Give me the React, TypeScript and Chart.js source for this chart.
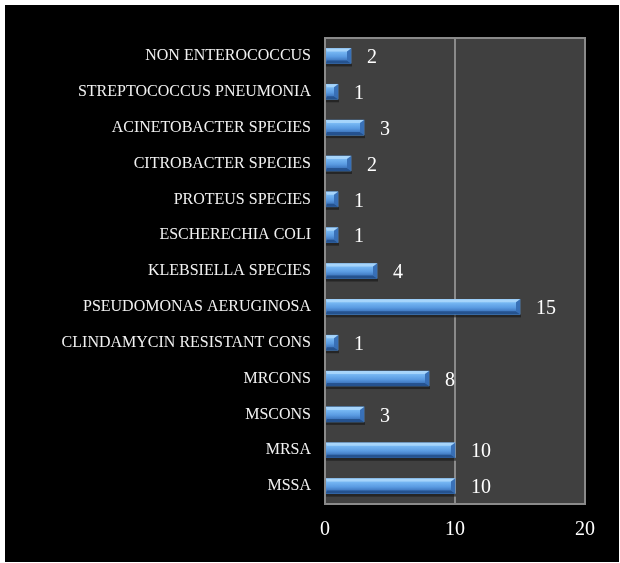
import React, { useEffect, useRef } from "react";
import { Chart, registerables } from "chart.js";

Chart.register(...registerables);

const categories: string[] = [
  "NON ENTEROCOCCUS",
  "STREPTOCOCCUS PNEUMONIA",
  "ACINETOBACTER SPECIES",
  "CITROBACTER SPECIES",
  "PROTEUS SPECIES",
  "ESCHERECHIA COLI",
  "KLEBSIELLA SPECIES",
  "PSEUDOMONAS AERUGINOSA",
  "CLINDAMYCIN RESISTANT CONS",
  "MRCONS",
  "MSCONS",
  "MRSA",
  "MSSA",
];

const counts: number[] = [2, 1, 3, 2, 1, 1, 4, 15, 1, 8, 3, 10, 10];

const xTicks: number[] = [0, 10, 20];

const FONT = "'Liberation Serif', 'Times New Roman', serif";

const framePlugin = {
  id: "frame",
  beforeDraw(chart: any) {
    const { ctx, chartArea, width, height } = chart;
    ctx.save();
    ctx.fillStyle = "#ffffff";
    ctx.fillRect(0, 0, width, height);
    ctx.fillStyle = "#000000";
    ctx.fillRect(5, 5, width - 6, height - 6);
    ctx.fillStyle = "#404040";
    ctx.fillRect(chartArea.left, chartArea.top, chartArea.right - chartArea.left, chartArea.bottom - chartArea.top);
    ctx.restore();
  },
  afterDraw(chart: any) {
    const { ctx, chartArea } = chart;
    ctx.save();
    ctx.strokeStyle = "#8a8a8a";
    ctx.lineWidth = 2;
    ctx.strokeRect(chartArea.left, chartArea.top, chartArea.right - chartArea.left, chartArea.bottom - chartArea.top);
    ctx.restore();
  },
};

const bevelPlugin = {
  id: "bevel",
  beforeDatasetsDraw(chart: any) {
    const { ctx } = chart;
    const meta = chart.getDatasetMeta(0);
    ctx.save();
    meta.data.forEach((bar: any) => {
      const p = bar.getProps(["x", "y", "base", "height"], true);
      const yB = p.y + p.height / 2;
      ctx.fillStyle = "rgba(20,20,20,0.6)";
      ctx.fillRect(p.base, yB, p.x - p.base + 1, 3);
    });
    ctx.restore();
  },
  afterDatasetsDraw(chart: any) {
    const { ctx } = chart;
    const meta = chart.getDatasetMeta(0);
    ctx.save();
    meta.data.forEach((bar: any, i: number) => {
      const p = bar.getProps(["x", "y", "base", "height"], true);
      const x0 = p.base;
      const x1 = p.x;
      const yT = p.y - p.height / 2;
      const yB = p.y + p.height / 2;
      const b = Math.min(4, (x1 - x0) / 2);
      const g = ctx.createLinearGradient(0, yT, 0, yB);
      g.addColorStop(0, "#9fd0fa");
      g.addColorStop(0.25, "#74b5f2");
      g.addColorStop(0.55, "#5a9be2");
      g.addColorStop(0.8, "#3f78c0");
      g.addColorStop(1, "#2c5c9a");
      ctx.fillStyle = g;
      ctx.fillRect(x0, yT, x1 - x0, yB - yT);
      ctx.fillStyle = "rgba(170,215,252,0.85)";
      ctx.beginPath();
      ctx.moveTo(x0, yT);
      ctx.lineTo(x1, yT);
      ctx.lineTo(x1 - b, yT + 3);
      ctx.lineTo(x0 + 1, yT + 3);
      ctx.closePath();
      ctx.fill();
      ctx.fillStyle = "rgba(35,80,140,0.9)";
      ctx.beginPath();
      ctx.moveTo(x0, yB);
      ctx.lineTo(x1, yB);
      ctx.lineTo(x1 - b, yB - 3);
      ctx.lineTo(x0 + 1, yB - 3);
      ctx.closePath();
      ctx.fill();
      ctx.fillStyle = "rgba(55,110,180,0.95)";
      ctx.beginPath();
      ctx.moveTo(x1, yT);
      ctx.lineTo(x1, yB);
      ctx.lineTo(x1 - b, yB - 3);
      ctx.lineTo(x1 - b, yT + 3);
      ctx.closePath();
      ctx.fill();
      ctx.fillStyle = "#ffffff";
      ctx.font = `20px ${FONT}`;
      ctx.textAlign = "left";
      ctx.textBaseline = "middle";
      ctx.fillText(String(counts[i]), x1 + 16, p.y + 2);
    });
    ctx.restore();
  },
};

export default function App() {
  const ref = useRef<HTMLCanvasElement | null>(null);
  useEffect(() => {
    if (!ref.current) return;
    const chart = new Chart(ref.current, {
      type: "bar",
      data: {
        labels: categories,
        datasets: [
          {
            data: counts,
            backgroundColor: "#5597e0",
            borderWidth: 0,
            barThickness: 15,
          },
        ],
      },
      options: {
        indexAxis: "y",
        responsive: false,
        animation: false,
        devicePixelRatio: 1,
        layout: { padding: { left: 0, right: 35, top: 38, bottom: 0 } },
        plugins: { legend: { display: false }, tooltip: { enabled: false } },
        scales: {
          x: {
            min: xTicks[0],
            max: xTicks[xTicks.length - 1],
            afterBuildTicks: (scale: any) => {
              scale.ticks = xTicks.map((v) => ({ value: v }));
            },
            afterFit: (scale: any) => {
              scale.height = 59;
            },
            grid: { color: "#8a8a8a", lineWidth: 2, drawTicks: false },
            border: { display: false },
            ticks: {
              color: "#ffffff",
              padding: 14,
              font: { family: FONT, size: 20 },
              maxRotation: 0,
            },
          },
          y: {
            afterFit: (scale: any) => {
              scale.width = 325;
            },
            grid: { display: false, drawTicks: false },
            border: { display: false },
            ticks: {
              color: "#f2f2f2",
              padding: 14,
              font: { family: FONT, size: 16 },
              autoSkip: false,
            },
          },
        },
      },
      plugins: [framePlugin, bevelPlugin],
    });
    return () => chart.destroy();
  }, []);
  return (
    <div style={{ position: "absolute", left: 0, top: 0, width: 620, height: 563 }}>
      <canvas ref={ref} width={620} height={563} style={{ display: "block" }} />
    </div>
  );
}
